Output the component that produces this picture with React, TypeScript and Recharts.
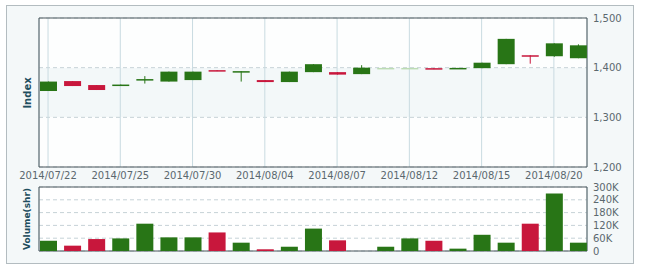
import React from 'react';
import {
  ComposedChart,
  Bar,
  Cell,
  XAxis,
  YAxis,
  CartesianGrid,
  ReferenceArea
} from 'recharts';

// trading days, 2014/07/22 .. 2014/08/21
const dates = [
  '2014/07/22', '2014/07/23', '2014/07/24', '2014/07/25', '2014/07/28', '2014/07/29',
  '2014/07/30', '2014/07/31', '2014/08/01', '2014/08/04', '2014/08/05', '2014/08/06',
  '2014/08/07', '2014/08/08', '2014/08/11', '2014/08/12', '2014/08/13', '2014/08/14',
  '2014/08/15', '2014/08/18', '2014/08/19', '2014/08/20', '2014/08/21'
];
const opens = [1353, 1373, 1365, 1364, 1377, 1372, 1375, 1395, 1393, 1375, 1371, 1391, 1391, 1387, 1398.5, 1398.5, 1399, 1397.5, 1399, 1407, 1425, 1423, 1419];
const highs = [1372, 1373, 1365, 1366, 1383, 1392, 1392, 1395, 1393, 1375, 1392, 1407, 1391, 1405, 1398.5, 1398.5, 1399, 1399.5, 1410, 1458, 1425, 1449, 1447];
const lows = [1353, 1363, 1355, 1364, 1368, 1372, 1375, 1393, 1372, 1371, 1371, 1391, 1386, 1387, 1398.5, 1398.5, 1397, 1397.5, 1399, 1407, 1408, 1422, 1419];
const closes = [1372, 1363, 1355, 1366, 1377, 1392, 1392, 1393, 1393, 1371, 1392, 1407, 1386, 1400, 1398.5, 1398.5, 1397, 1399.5, 1410, 1458, 1424, 1449, 1445];
const volumes = [48000, 25000, 56000, 59000, 128000, 64000, 64000, 87000, 39000, 8000, 20000, 105000, 50000, 0, 20000, 59000, 48000, 11000, 76000, 39000, 128000, 269000, 39000];

const xTicks = [0, 3, 6, 9, 12, 15, 18, 21];
const priceTicks = [1200, 1300, 1400, 1500];
const volumeTicks = [0, 60000, 120000, 180000, 240000, 300000];

const GREEN = '#287516';
const RED = '#c8173c';
const PALE = '#bcdcb4';
const FONT = '"DejaVu Sans", Verdana, sans-serif';
const X_DOMAIN: [number, number] = [-0.375, 22.375];

const rows = dates.map((d, i) => ({
  i,
  date: d,
  open: opens[i],
  high: highs[i],
  low: lows[i],
  close: closes[i],
  volume: volumes[i]
}));

const candleColor = (r: { open: number; close: number; high: number; low: number }) => {
  if (r.close < r.open) return RED;
  if (r.close === r.open && r.high === r.low) return PALE;
  return GREEN;
};

const Candle = (props: any) => {
  const { x, y, width, height, payload } = props;
  const { open, close, high, low } = payload;
  const color = candleColor(payload);
  const top = Math.min(y, y + height);
  const h = Math.abs(height);
  if (high === low || h === 0) {
    return <rect x={x} y={top - 0.5} width={width} height={1.5} fill={color} />;
  }
  const toY = (v: number) => top + ((high - v) / (high - low)) * h;
  const bTop = toY(Math.max(open, close));
  const bBot = toY(Math.min(open, close));
  const cx = x + width / 2;
  return (
    <g>
      <line x1={cx} x2={cx} y1={top} y2={top + h} stroke={color} strokeWidth={1} />
      <rect x={x} y={bTop} width={width} height={Math.max(bBot - bTop, 1.5)} fill={color} />
    </g>
  );
};

const tickStyle = { fill: '#5b686f', fontSize: 10, fontFamily: FONT };

const axisTitle = (top: number, size: number): React.CSSProperties => ({
  position: 'absolute',
  left: 27,
  top,
  transform: 'translate(-50%, -50%) rotate(-90deg)',
  fontFamily: FONT,
  fontSize: size,
  fontWeight: 'bold',
  color: '#1f4e5e',
  whiteSpace: 'nowrap'
});

export default function App() {
  return (
    <div style={{ position: 'absolute', left: 0, top: 0, width: 650, height: 278, background: '#fff' }}>
      <div
        style={{
          position: 'absolute',
          left: 6,
          top: 5,
          width: 628,
          height: 259,
          boxSizing: 'border-box',
          border: '1px solid #b3bcc0',
          background: '#f4f8f9'
        }}
      />
      <div style={{ position: 'absolute', left: 0, top: 0 }}>
        <ComposedChart width={650} height={190} data={rows} margin={{ top: 18, right: 18, bottom: 3, left: 39 }}>
          <CartesianGrid
            vertical={false}
            stroke="#c6d2d7"
            strokeDasharray="4 3"
            fill="#fff"
            horizontalFill={['#fdfefe', '#f3f8f9', '#fdfefe']}
          />
          <CartesianGrid horizontal={false} stroke="#c9dbe1" />
          <XAxis
            dataKey="i"
            type="number"
            domain={X_DOMAIN}
            ticks={xTicks}
            interval={0}
            allowDataOverflow
            tickFormatter={(v: number) => dates[v]}
            axisLine={false}
            tickLine={false}
            tickSize={4}
            tickMargin={1}
            height={20}
            tick={tickStyle}
          />
          <YAxis
            orientation="right"
            domain={[1200, 1500]}
            ticks={priceTicks}
            interval={0}
            tickFormatter={(v: number) => v.toLocaleString('en-US')}
            axisLine={false}
            tickLine={false}
            tickSize={6}
            tickMargin={0}
            width={45}
            tick={tickStyle}
          />
          <Bar
            dataKey={(r: any) => [r.low, r.high]}
            barSize={17}
            shape={Candle}
            isAnimationActive={false}
          />
          <ReferenceArea
            x1={X_DOMAIN[0]}
            x2={X_DOMAIN[1]}
            y1={1200}
            y2={1500}
            fill="none"
            stroke="#4b565c"
            strokeWidth={1}
          />
        </ComposedChart>
      </div>
      <div style={{ position: 'absolute', left: 0, top: 180 }}>
        <ComposedChart width={650} height={98} data={rows} margin={{ top: 7, right: 18, bottom: 27, left: 39 }}>
          <CartesianGrid vertical={false} stroke="#c6d2d7" strokeDasharray="4 3" fill="#fff" />
          <CartesianGrid horizontal={false} stroke="#c9dbe1" />
          <XAxis
            dataKey="i"
            type="number"
            domain={X_DOMAIN}
            ticks={xTicks}
            interval={0}
            allowDataOverflow
            axisLine={false}
            tickLine={false}
            tick={false}
            height={0}
          />
          <YAxis
            orientation="right"
            domain={[0, 300000]}
            ticks={volumeTicks}
            interval={0}
            tickFormatter={(v: number) => (v === 0 ? '0' : `${v / 1000}K`)}
            axisLine={false}
            tickLine={false}
            tickSize={6}
            tickMargin={0}
            width={45}
            tick={tickStyle}
          />
          <Bar dataKey="volume" barSize={17} isAnimationActive={false}>
            {rows.map((r) => (
              <Cell key={r.date} fill={r.close < r.open ? RED : GREEN} />
            ))}
          </Bar>
          <ReferenceArea
            x1={X_DOMAIN[0]}
            x2={X_DOMAIN[1]}
            y1={0}
            y2={300000}
            fill="none"
            stroke="#4b565c"
            strokeWidth={1}
          />
        </ComposedChart>
      </div>
      <div style={axisTitle(93, 10)}>Index</div>
      <div style={axisTitle(219, 9)}>Volume(shr)</div>
    </div>
  );
}
